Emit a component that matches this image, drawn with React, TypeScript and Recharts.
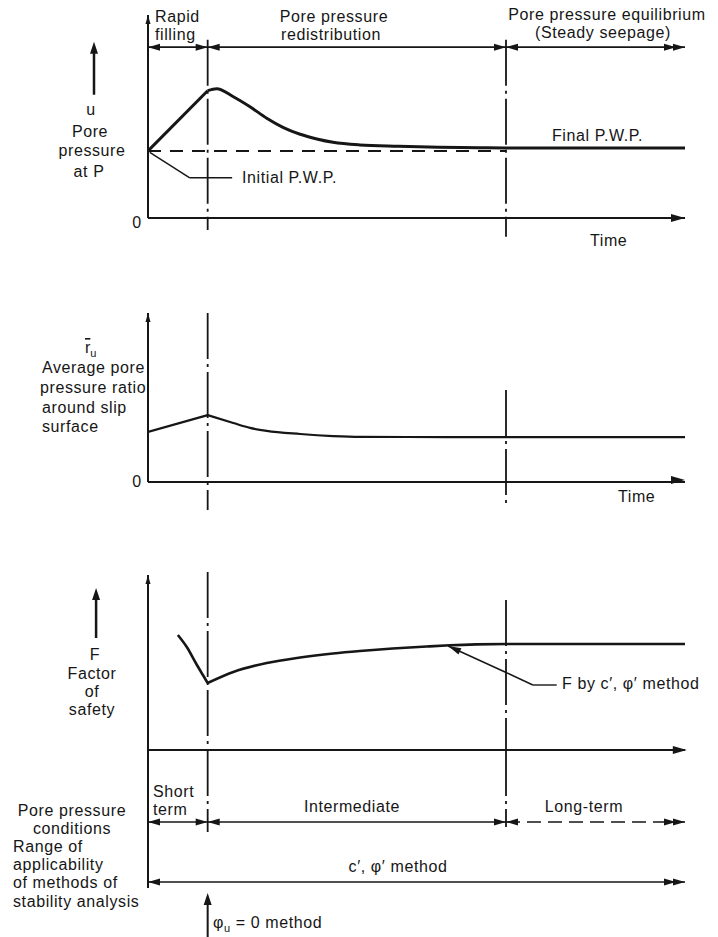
import { LineChart, Line, XAxis, YAxis, ReferenceLine, ReferenceDot } from "recharts";

const INK = "#161616";
const FONT = "'Liberation Sans', Arial, sans-serif";

const WIDTH = 718;
const PLOT_LEFT = 148;
const PLOT_RIGHT = 33;
const T_DOMAIN: [number, number] = [0, 9];
const T_FILL = 1; // end of rapid filling
const T_STEADY = 6; // start of steady seepage

// u, pore pressure at P
const U_RISE_TIME = [0, 1];
const U_RISE = [1.0, 1.9];
const U_DECAY_TIME = [1, 1.15, 1.43, 1.71, 1.99, 2.27, 2.55, 2.83, 3.1, 3.55, 4.2, 4.87, 5.56, 6, 9];
const U_DECAY = [1.9, 1.93, 1.81, 1.66, 1.49, 1.35, 1.25, 1.18, 1.13, 1.09, 1.07, 1.055, 1.048, 1.045, 1.045];
const U_INITIAL = 1.0;

// average pore pressure ratio around slip surface
const RU_RISE_TIME = [0, 1];
const RU_RISE = [0.296, 0.396];
const RU_DECAY_TIME = [1, 1.43, 1.71, 1.99, 2.55, 3.1, 3.55, 5, 9];
const RU_DECAY = [0.396, 0.349, 0.32, 0.302, 0.284, 0.272, 0.267, 0.266, 0.266];

// factor of safety
const F_SHORT_TIME = [0.5, 0.65, 0.82, 0.92, 1];
const F_SHORT = [1.15, 1.03, 0.85, 0.75, 0.67];
const F_LONG_TIME = [1, 1.43, 1.99, 2.55, 3.1, 3.55, 4.1, 4.67, 5.06, 5.5, 6, 9];
const F_LONG = [0.67, 0.78, 0.87, 0.925, 0.965, 0.99, 1.015, 1.035, 1.047, 1.056, 1.06, 1.06];

type Row = { t: number; [k: string]: number };

const merge = (...series: [string, number[], number[]][]): Row[] => {
  const rows = new Map<number, Row>();
  series.forEach(([key, ts, vs]) =>
    ts.forEach((t, i) => {
      const r = rows.get(t) ?? { t };
      r[key] = vs[i];
      rows.set(t, r);
    })
  );
  return [...rows.values()].sort((a, b) => a.t - b.t);
};

const uData = merge(["rise", U_RISE_TIME, U_RISE], ["decay", U_DECAY_TIME, U_DECAY]);
const ruData = merge(["rise", RU_RISE_TIME, RU_RISE], ["decay", RU_DECAY_TIME, RU_DECAY]);
const fData = merge(["short", F_SHORT_TIME, F_SHORT], ["long", F_LONG_TIME, F_LONG]);

const RIGHT = 0;
const LEFT = 180;
const UP = -90;
const DASH_DOT = "46 5 3 5";

const Head = ({ cx, cy, angle, len, half }: { cx: number; cy: number; angle: number; len: number; half: number }) => {
  const a = (angle * Math.PI) / 180;
  const ux = Math.cos(a);
  const uy = Math.sin(a);
  const bx = cx - ux * len;
  const by = cy - uy * len;
  const px = -uy * half;
  const py = ux * half;
  return <polygon points={`${cx},${cy} ${bx + px},${by + py} ${bx - px},${by - py}`} fill={INK} />;
};

const head = (key: string, x: number, y: number, angle: number, len = 12, half = 3.5, double = false) => (
  <ReferenceDot
    key={key}
    x={x}
    y={y}
    r={1}
    ifOverflow="visible"
    shape={(p: any) => {
      const a = (angle * Math.PI) / 180;
      return (
        <g>
          <Head cx={p.cx} cy={p.cy} angle={angle} len={len} half={half} />
          {double && (
            <Head
              cx={p.cx - Math.cos(a) * len * 0.75}
              cy={p.cy - Math.sin(a) * len * 0.75}
              angle={angle}
              len={len}
              half={half}
            />
          )}
        </g>
      );
    }}
  />
);

const seg = (key: string, x1: number, y1: number, x2: number, y2: number, width = 2, dash?: string) => (
  <ReferenceLine
    key={key}
    segment={[
      { x: x1, y: y1 },
      { x: x2, y: y2 },
    ]}
    stroke={INK}
    strokeWidth={width}
    strokeDasharray={dash}
    ifOverflow="visible"
  />
);

// arrowed span row with heads at each phase boundary
const spanRow = (id: string, y: number, longDash?: string) => [
  seg(`${id}-a`, 0, y, T_STEADY, y, 1.6),
  seg(`${id}-b`, T_STEADY, y, 9, y, 1.6, longDash),
  head(`${id}-h0`, 0, y, LEFT),
  head(`${id}-h1`, T_FILL, y, RIGHT),
  head(`${id}-h2`, T_FILL, y, LEFT),
  head(`${id}-h3`, T_STEADY, y, RIGHT),
  head(`${id}-h4`, T_STEADY, y, LEFT),
  head(`${id}-h5`, 9, y, RIGHT, 12, 3.5, true),
];

const Panel = ({
  top,
  height,
  mt,
  mb,
  data,
  yDomain,
  children,
}: {
  top: number;
  height: number;
  mt: number;
  mb: number;
  data: Row[];
  yDomain: [number, number];
  children: React.ReactNode;
}) => (
  <div style={{ position: "absolute", left: 0, top }}>
    <LineChart
      width={WIDTH}
      height={height}
      data={data}
      margin={{ top: mt, right: PLOT_RIGHT, bottom: mb, left: PLOT_LEFT }}
    >
      <XAxis type="number" dataKey="t" domain={T_DOMAIN} hide allowDataOverflow />
      <YAxis type="number" domain={yDomain} hide allowDataOverflow />
      {children}
    </LineChart>
  </div>
);

const Txt = ({ x, y, children, anchor = "start", size = 16 }: any) => (
  <text x={x} y={y} textAnchor={anchor} fontSize={size} fill={INK} fontFamily={FONT} letterSpacing={0.6}>
    {children}
  </text>
);

export default function App() {
  return (
    <div style={{ position: "absolute", left: 0, top: 0, width: WIDTH, height: 937, background: "#fff" }}>
      {/* pore pressure at P */}
      <Panel top={0} height={260} mt={17} mb={42} data={uData} yDomain={[0, 3]}>
        {seg("yaxis", 0, 0, 0, 3.03, 2)}
        {head("yaxis-h", 0, 3.03, UP, 9, 2.5)}
        {seg("xaxis", 0, 0, 9, 0, 2)}
        {head("xaxis-h", 9, 0, RIGHT, 14, 4)}
        {spanRow("phase", 2.55)}
        {seg("v1", T_FILL, 2.66, T_FILL, -0.18, 1.8, DASH_DOT)}
        {seg("v6", T_STEADY, 2.66, T_STEADY, -0.28, 1.8, DASH_DOT)}
        {seg("initial", 0, U_INITIAL, T_STEADY, U_INITIAL, 2, "13 9")}
        {seg("lead1", 0.03, 0.98, 0.7, 0.6, 1.4)}
        {seg("lead2", 0.7, 0.6, 1.41, 0.6, 1.4)}
        {seg("ylab", -0.905, 1.84, -0.905, 2.5, 2.5)}
        {head("ylab-h", -0.905, 2.63, UP, 12, 4)}
        <Line dataKey="rise" type="linear" stroke={INK} strokeWidth={3} dot={false} isAnimationActive={false} />
        <Line dataKey="decay" type="monotone" stroke={INK} strokeWidth={3} dot={false} isAnimationActive={false} />
      </Panel>

      {/* average pore pressure ratio */}
      <Panel top={280} height={260} mt={33} mb={58} data={ruData} yDomain={[0, 1]}>
        {seg("yaxis", 0, 0, 0, 1, 2)}
        {head("yaxis-h", 0, 1, UP, 9, 2.5)}
        {seg("xaxis", 0, 0, 9, 0, 2)}
        {head("xaxis-h", 9, 0.012, RIGHT, 14, 4)}
        {seg("v1", T_FILL, 1, T_FILL, -0.166, 1.8, DASH_DOT)}
        {seg("v6", T_STEADY, 0.544, T_STEADY, -0.154, 1.8, DASH_DOT)}
        <Line dataKey="rise" type="linear" stroke={INK} strokeWidth={2.2} dot={false} isAnimationActive={false} />
        <Line dataKey="decay" type="monotone" stroke={INK} strokeWidth={2.2} dot={false} isAnimationActive={false} />
      </Panel>

      {/* factor of safety */}
      <Panel top={540} height={215} mt={35} mb={5} data={fData} yDomain={[0, 1.75]}>
        {seg("yaxis", 0, 0, 0, 1.75, 2)}
        {head("yaxis-h", 0, 1.75, UP, 9, 2.5)}
        {seg("xaxis", 0, 0, 9, 0, 2)}
        {head("xaxis-h", 9.03, 0, RIGHT, 14, 4)}
        {seg("v1", T_FILL, 1.78, T_FILL, 0, 1.8, DASH_DOT)}
        {seg("v6", T_STEADY, 1.5, T_STEADY, 0, 1.8, DASH_DOT)}
        {seg("lead1", 5.03, 1.04, 6.02, 0.77, 1.4)}
        {seg("lead2", 6.02, 0.77, 6.45, 0.65, 1.4)}
        {seg("lead3", 6.45, 0.65, 6.85, 0.65, 1.4)}
        {head("lead-h", 5.03, 1.04, -155.4, 13, 3.5)}
        {seg("ylab", -0.87, 1.12, -0.87, 1.5, 2.5)}
        {head("ylab-h", -0.87, 1.62, UP, 12, 4)}
        <Line dataKey="short" type="monotone" stroke={INK} strokeWidth={2.6} dot={false} isAnimationActive={false} />
        <Line dataKey="long" type="monotone" stroke={INK} strokeWidth={2.6} dot={false} isAnimationActive={false} />
      </Panel>

      {/* pore pressure conditions and method ranges */}
      <Panel top={740} height={197} mt={10} mb={47} data={fData} yDomain={[0, 7]}>
        {seg("yaxis", 0, 7, 0, 0.1, 2)}
        {seg("v1", T_FILL, 7, T_FILL, 2.9, 1.8, DASH_DOT)}
        {seg("v6", T_STEADY, 7, T_STEADY, 3.15, 1.8, DASH_DOT)}
        {spanRow("cond", 3.4, "14 7")}
        {seg("range", 0, 0.4, 9, 0.4, 1.6)}
        {head("range-l", 0, 0.4, LEFT)}
        {head("range-r", 9, 0.4, RIGHT, 12, 3.5, true)}
        {seg("phi", T_FILL, -2.35, T_FILL, -0.5, 2)}
        {head("phi-h", T_FILL, -0.15, UP, 12, 4)}
      </Panel>

      <svg
        width={WIDTH}
        height={937}
        style={{ position: "absolute", left: 0, top: 0, pointerEvents: "none" }}
      >
        <Txt x={155} y={22}>Rapid</Txt>
        <Txt x={155} y={40}>filling</Txt>
        <Txt x={334} y={22} anchor="middle">Pore pressure</Txt>
        <Txt x={331} y={40} anchor="middle">redistribution</Txt>
        <Txt x={607} y={20} anchor="middle">Pore pressure equilibrium</Txt>
        <Txt x={603} y={38} anchor="middle">(Steady seepage)</Txt>

        <Txt x={91} y={115} anchor="middle">u</Txt>
        <Txt x={90} y={137} anchor="middle">Pore</Txt>
        <Txt x={92} y={156} anchor="middle">pressure</Txt>
        <Txt x={89} y={177} anchor="middle">at P</Txt>
        <Txt x={137} y={228} anchor="middle">0</Txt>
        <Txt x={242} y={183}>Initial  P.W.P.</Txt>
        <Txt x={552} y={141}>Final  P.W.P.</Txt>
        <Txt x={590} y={246}>Time</Txt>

        <text x={85} y={353} fontSize={16} fill={INK} fontFamily={FONT}>
          <tspan textDecoration="overline">r</tspan>
          <tspan dy={4} fontSize={11}>u</tspan>
        </text>
        <Txt x={42} y={373}>Average pore</Txt>
        <Txt x={40} y={393}>pressure ratio</Txt>
        <Txt x={42} y={413}>around slip</Txt>
        <Txt x={42} y={432}>surface</Txt>
        <Txt x={137} y={487} anchor="middle">0</Txt>
        <Txt x={618} y={502}>Time</Txt>

        <Txt x={95} y={660} anchor="middle">F</Txt>
        <Txt x={92} y={679} anchor="middle">Factor</Txt>
        <Txt x={92} y={697} anchor="middle">of</Txt>
        <Txt x={92} y={715} anchor="middle">safety</Txt>
        <Txt x={562} y={689}>F  by  c′, φ′ method</Txt>

        <Txt x={153} y={797}>Short</Txt>
        <Txt x={153} y={815}>term</Txt>
        <Txt x={352} y={812} anchor="middle">Intermediate</Txt>
        <Txt x={584} y={812} anchor="middle">Long-term</Txt>
        <Txt x={72} y={816} anchor="middle">Pore pressure</Txt>
        <Txt x={72} y={834} anchor="middle">conditions</Txt>
        <Txt x={13} y={852}>Range of</Txt>
        <Txt x={13} y={870}>applicability</Txt>
        <Txt x={13} y={888}>of methods of</Txt>
        <Txt x={13} y={907}>stability analysis</Txt>
        <Txt x={398} y={872} anchor="middle">c′, φ′ method</Txt>
        <text x={213} y={928} fontSize={16} fill={INK} fontFamily={FONT} letterSpacing={0.6}>
          φ<tspan dy={4} fontSize={11}>u</tspan>
          <tspan dy={-4}> = 0 method</tspan>
        </text>
      </svg>
    </div>
  );
}
